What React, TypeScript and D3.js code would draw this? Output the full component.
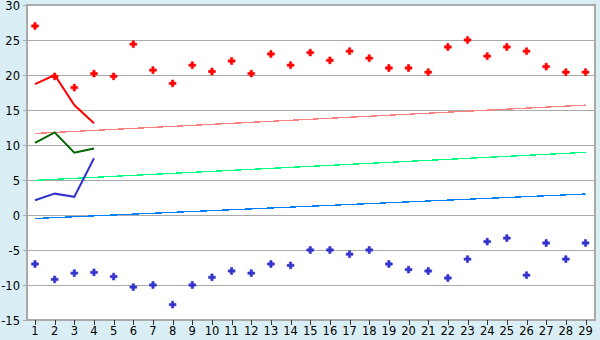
import React from "react";
import * as d3 from "d3";

const categories = d3.range(1, 30);
const redPoints = [27, 19.8, 18.2, 20.2, 19.8, 24.4, 20.7, 18.8, 21.4, 20.5, 22.0, 20.2, 23.0, 21.4, 23.2, 22.1, 23.4, 22.4, 21.0, 21.0, 20.4, 24.0, 25.0, 22.7, 24.0, 23.4, 21.2, 20.4, 20.4];
const bluePoints = [-7.0, -9.2, -8.3, -8.2, -8.8, -10.3, -10.0, -12.8, -10.0, -8.9, -8.0, -8.3, -7.0, -7.2, -5.0, -5.0, -5.6, -5.0, -7.0, -7.8, -8.0, -9.0, -6.3, -3.8, -3.3, -8.6, -4.0, -6.3, -4.0];
const redLine = [18.7, 20.0, 15.7, 13.1];
const greenLine = [10.3, 11.8, 8.9, 9.5];
const blueLine = [2.1, 3.05, 2.6, 8.1];
const pinkTrend = [11.65, 15.7];
const lightGreenTrend = [4.95, 8.95];
const lightBlueTrend = [-0.5, 3.0];
const yTicks = [-15, -10, -5, 0, 5, 10, 15, 20, 25, 30];

const W = 600, H = 340;
const left = 27, right = 595, top = 5, bottom = 320;

export default function App() {
  const x = d3.scaleLinear().domain([1, 29]).range([35, 585.5]);
  const y = d3.scaleLinear().domain([-15, 30]).range([bottom, top]);
  const line = d3.line<number>().x((_, i) => x(categories[i])).y((d) => y(d));
  const trend = (v: number[]) => ({ x1: x(1), x2: x(29), y1: y(v[0]), y2: y(v[1]) });
  const cross = d3.symbol().type(d3.symbolCross).size(26)();
  const tp = trend(pinkTrend), tg = trend(lightGreenTrend), tb = trend(lightBlueTrend);
  return (
    <svg width={W} height={H} style={{ position: "absolute", left: 0, top: 0, display: "block" }} fontFamily="DejaVu Sans, Verdana, sans-serif">
      <rect x={0} y={0} width={W} height={H} fill="#daeff5" />
      <rect x={left} y={top} width={right - left} height={bottom - top} fill="#ffffff" />
      {yTicks.map((t) => (
        <g key={t}>
          <line x1={left - 4} x2={right} y1={y(t)} y2={y(t)} stroke="#aaaaaa" strokeWidth={1} shapeRendering="crispEdges" />
          <text x={20} y={y(t) + 4.5} textAnchor="end" fontSize={11.5} fill="#000">{t}</text>
        </g>
      ))}
      <rect x={left} y={top} width={right - left} height={bottom - top} fill="none" stroke="#aaaaaa" strokeWidth={1.5} shapeRendering="crispEdges" />
      {categories.map((c) => (
        <g key={c}>
          <line x1={Math.round(x(c)) + 0.5} x2={Math.round(x(c)) + 0.5} y1={bottom} y2={bottom + 5} stroke="#333" strokeWidth={1} />
          <text x={x(c)} y={335} textAnchor="middle" fontSize={11.5} fill="#000">{c}</text>
        </g>
      ))}
      <line {...tp} stroke="#ff8080" strokeWidth={1.3} shapeRendering="crispEdges" />
      <line {...tg} stroke="#00ff80" strokeWidth={1.3} shapeRendering="crispEdges" />
      <line {...tb} stroke="#0080ff" strokeWidth={1.3} shapeRendering="crispEdges" />
      <path d={line(redLine) || ""} fill="none" stroke="#ff0000" strokeWidth={2} />
      <path d={line(greenLine) || ""} fill="none" stroke="#006600" strokeWidth={2} />
      <path d={line(blueLine) || ""} fill="none" stroke="#3333cc" strokeWidth={2} />
      {redPoints.map((v, i) => (
        <path key={"r" + i} d={cross || ""} transform={`translate(${x(categories[i])},${y(v)})`} fill="#ff0000" stroke="#ff0000" strokeWidth={0.6} />
      ))}
      {bluePoints.map((v, i) => (
        <path key={"b" + i} d={cross || ""} transform={`translate(${x(categories[i])},${y(v)})`} fill="#3333cc" stroke="#3333cc" strokeWidth={0.6} />
      ))}
    </svg>
  );
}
